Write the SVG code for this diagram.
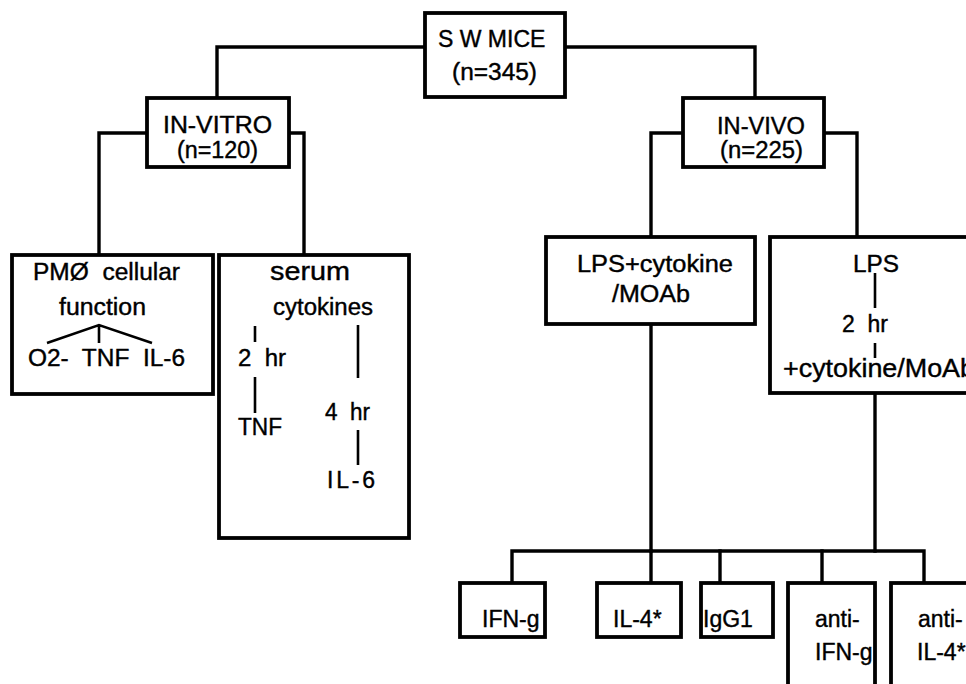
<svg xmlns="http://www.w3.org/2000/svg" width="966" height="684" viewBox="0 0 966 684">
<style>
  .box { fill: #fff; stroke: #000; stroke-width: 3.8; }
  .wire { fill: none; stroke: #000; stroke-width: 3.4; stroke-linejoin: miter; stroke-linecap: square; }
  .tick { fill: none; stroke: #000; stroke-width: 2.6; }
  text { font-family: "Liberation Sans", Arial, Helvetica, sans-serif; font-size: 23px; fill: #000; stroke: #000; stroke-width: 0.4; }
</style>
<rect width="966" height="684" fill="#fff"/>

<g id="connectors">
  <path class="wire" d="M425,47 H217 V98"/>
  <path class="wire" d="M565,47 H755 V98"/>
  <path class="wire" d="M147,133 H99 V255"/>
  <path class="wire" d="M289,133 H304 V255"/>
  <path class="wire" d="M683,133 H651 V237"/>
  <path class="wire" d="M824,133 H857 V237"/>
  <path class="wire" d="M651,324 V551"/>
  <path class="wire" d="M875,393 V551"/>
  <path class="wire" d="M512,583 V551 H924 V583"/>
  <path class="wire" d="M651,551 V583"/>
  <path class="wire" d="M720,551 V583"/>
  <path class="wire" d="M822,551 V583"/>
</g>

<g id="sw-mice">
  <rect class="box" x="425" y="13" width="140" height="84"/>
  <text x="438" y="47">S W MICE</text>
  <text x="452" y="80" textLength="85" lengthAdjust="spacingAndGlyphs">(n=345)</text>
</g>

<g id="in-vitro">
  <rect class="box" x="147" y="98" width="142" height="69"/>
  <text x="163" y="133" textLength="109" lengthAdjust="spacingAndGlyphs">IN-VITRO</text>
  <text x="177" y="158" textLength="81" lengthAdjust="spacingAndGlyphs">(n=120)</text>
</g>

<g id="in-vivo">
  <rect class="box" x="683" y="98" width="141" height="69"/>
  <text x="717" y="134" textLength="88" lengthAdjust="spacingAndGlyphs">IN-VIVO</text>
  <text x="720" y="158" textLength="83" lengthAdjust="spacingAndGlyphs">(n=225)</text>
</g>

<g id="pmo-function">
  <rect class="box" x="12" y="255" width="201" height="139"/>
  <text x="33" y="280" textLength="147" lengthAdjust="spacingAndGlyphs" xml:space="preserve">PMØ  cellular</text>
  <text x="59" y="315" textLength="87" lengthAdjust="spacingAndGlyphs">function</text>
  <path class="tick" d="M47,343 L99,325 L152,343 M99,325 V343"/>
  <text x="28" y="366" xml:space="preserve" textLength="157" lengthAdjust="spacingAndGlyphs">O2-  TNF  IL-6</text>
</g>

<g id="serum-cytokines">
  <rect class="box" x="219" y="255" width="190" height="283"/>
  <text x="270" y="280" style="font-size:25px" textLength="80" lengthAdjust="spacingAndGlyphs">serum</text>
  <text x="273" y="315" textLength="100" lengthAdjust="spacingAndGlyphs">cytokines</text>
  <path class="tick" d="M255,326 V342 M255,377 V413 M358,325 V378 M358,430 V465"/>
  <text x="238" y="366" xml:space="preserve" textLength="48" lengthAdjust="spacingAndGlyphs">2  hr</text>
  <text x="238" y="435" textLength="44" lengthAdjust="spacingAndGlyphs">TNF</text>
  <text x="325" y="420" xml:space="preserve" textLength="45" lengthAdjust="spacingAndGlyphs">4  hr</text>
  <text x="327" y="488" textLength="48" lengthAdjust="spacing">IL-6</text>
</g>

<g id="lps-cytokine-moab">
  <rect class="box" x="546" y="237" width="209" height="87"/>
  <text x="577" y="272" textLength="156" lengthAdjust="spacingAndGlyphs">LPS+cytokine</text>
  <text x="612" y="302" textLength="78" lengthAdjust="spacingAndGlyphs">/MOAb</text>
</g>

<g id="lps-2hr">
  <rect class="box" x="770" y="237" width="220" height="156"/>
  <text x="853" y="272" textLength="46" lengthAdjust="spacingAndGlyphs">LPS</text>
  <path class="tick" d="M875,273 V308 M875,343 V358"/>
  <text x="842" y="332" xml:space="preserve" textLength="46" lengthAdjust="spacingAndGlyphs">2  hr</text>
  <text x="783" y="377" style="font-size:26px" textLength="192" lengthAdjust="spacingAndGlyphs">+cytokine/MoAb</text>
</g>

<g id="ifn-g">
  <rect class="box" x="460" y="583" width="85" height="54"/>
  <text x="482" y="627">IFN-g</text>
</g>

<g id="il-4">
  <rect class="box" x="597" y="583" width="84" height="54"/>
  <text x="613" y="627">IL-4*</text>
</g>

<g id="igg1">
  <rect class="box" x="701" y="583" width="72" height="54"/>
  <text x="703" y="627">IgG1</text>
</g>

<g id="anti-ifn-g">
  <rect class="box" x="788" y="583" width="87" height="130"/>
  <text x="815" y="627">anti-</text>
  <text x="815" y="660">IFN-g</text>
</g>

<g id="anti-il-4">
  <rect class="box" x="891" y="583" width="100" height="130"/>
  <text x="918" y="627">anti-</text>
  <text x="917" y="660">IL-4*</text>
</g>
</svg>
